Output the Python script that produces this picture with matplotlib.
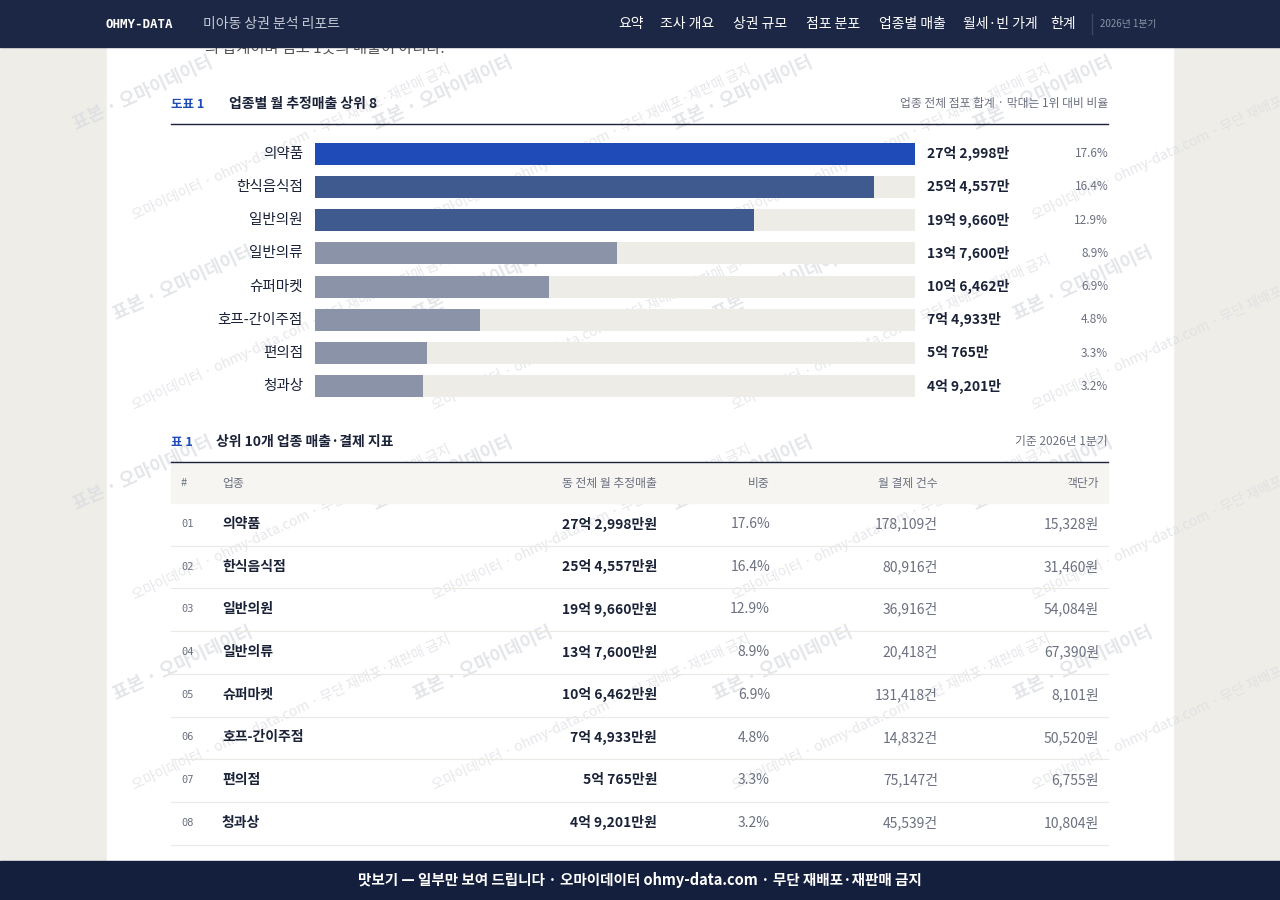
import numpy as np
import matplotlib.pyplot as plt
from matplotlib.patches import Rectangle

plt.rcParams['font.family'] = ['Noto Sans CJK KR', 'DejaVu Sans']

# chart data (만원)
categories = ['의약품', '한식음식점', '일반의원', '일반의류', '슈퍼마켓', '호프-간이주점', '편의점', '청과상']
sales_man = [272998, 254557, 199660, 137600, 106462, 74933, 50765, 49201]
sales_label = ['27억 2,998만', '25억 4,557만', '19억 9,660만', '13억 7,600만',
               '10억 6,462만', '7억 4,933만', '5억 765만', '4억 9,201만']
shares = ['17.6%', '16.4%', '12.9%', '8.9%', '6.9%', '4.8%', '3.3%', '3.2%']

# table data
t_sales = ['27억 2,998만원', '25억 4,557만원', '19억 9,660만원', '13억 7,600만원',
           '10억 6,462만원', '7억 4,933만원', '5억 765만원', '4억 9,201만원']
t_count = ['178,109건', '80,916건', '36,916건', '20,418건', '131,418건', '14,832건', '75,147건', '45,539건']
t_price = ['15,328원', '31,460원', '54,084원', '67,390원', '8,101원', '50,520원', '6,755원', '10,804원']
nav = ['요약', '조사 개요', '상권 규모', '점포 분포', '업종별 매출', '월세·빈 가게', '한계']

W, H = 1280, 900
fig = plt.figure(figsize=(W / 100, H / 100), dpi=100)
fig.patch.set_facecolor('#efede8')
bg = fig.add_axes([0, 0, 1, 1])
bg.set_xlim(0, W)
bg.set_ylim(H, 0)
bg.axis('off')

navy = '#1b2744'
ink = '#1a2238'
grey = '#6b7080'

bg.add_patch(Rectangle((107, 0), 1066, H, color='white', zorder=0))

# watermarks
for yy in range(130, 800, 190):
    for xx in range(70, 1000, 300):
        bg.text(xx + (yy // 190 % 2) * 40, yy, '표본 · 오마이데이터', rotation=25, fontsize=13,
                color='#d9dbe0', alpha=0.7, fontweight='bold', zorder=1)
        bg.text(xx + 60, yy + 90, '오마이데이터 · ohmy-data.com · 무단 재배포·재판매 금지', rotation=25,
                fontsize=10, color='#dcdde2', alpha=0.7, zorder=1)

# header
bg.add_patch(Rectangle((0, 0), W, 47, color=navy, zorder=5))
bg.text(105, 24, 'OHMY-DATA', color='white', fontsize=9, fontweight='bold', va='center',
        family='DejaVu Sans Mono', zorder=6)
bg.text(203, 24, '미아동 상권 분석 리포트', color='#c5cad6', fontsize=10, va='center', zorder=6)
nx = [618, 660, 733, 806, 879, 963, 1050]
for x, t in zip(nx, nav):
    bg.text(x, 24, t, color='white', fontsize=10, va='center', zorder=6)
bg.plot([1092, 1092], [14, 34], color='#3a4663', lw=1, zorder=6)
bg.text(1100, 24, '2026년 1분기', color='#8b93a8', fontsize=7, va='center', zorder=6)
bg.text(205, 48, '의 합계이며 점포 1곳의 매출이 아니다.', color='#555', fontsize=11, va='center', zorder=2)

# figure title
bg.text(171, 104, '도표 1', color='#1f4bb8', fontsize=9, fontweight='bold', va='center')
bg.text(229, 104, '업종별 월 추정매출 상위 8', color=ink, fontsize=10, fontweight='bold', va='center')
bg.text(1108, 104, '업종 전체 점포 합계 · 막대는 1위 대비 비율', color=grey, fontsize=8.5,
        va='center', ha='right')
bg.plot([171, 1108], [124, 124], color=ink, lw=1)

# bar chart
ax = fig.add_axes([315 / W, 1 - 403 / H, 600 / W, (403 - 137) / H])
y = np.arange(len(categories))
top = sales_man[0]
colors = ['#1f4bb8', '#3f5a8f', '#3f5a8f'] + ['#8a93a8'] * 5
ax.barh(y, [top] * len(y), height=0.66, color='#eeece6', zorder=1)
ax.barh(y, sales_man, height=0.66, color=colors, zorder=2)
ax.set_xlim(0, top)
ax.set_ylim(len(y) - 0.5, -0.5)
ax.axis('off')
ax.patch.set_alpha(0)
for i in y:
    ax.text(-12 / 600 * top, i, categories[i], ha='right', va='center', fontsize=10.5,
            fontweight='medium', color=ink)
    ax.text(top * 1.02, i, sales_label[i], ha='left', va='center', fontsize=10,
            fontweight='bold', color=ink)
    ax.text(top * 1.322, i, shares[i], ha='right', va='center', fontsize=8.5, color=grey)

# table
bg.text(171, 442, '표 1', color='#1f4bb8', fontsize=9, fontweight='bold', va='center')
bg.text(216, 442, '상위 10개 업종 매출·결제 지표', color=ink, fontsize=10, fontweight='bold', va='center')
bg.text(1108, 442, '기준 2026년 1분기', color=grey, fontsize=8.5, va='center', ha='right')
bg.plot([171, 1108], [462, 462], color=ink, lw=1)
bg.add_patch(Rectangle((171, 463), 937, 40, color='#f6f5f1', zorder=1))
hy = 483
bg.text(181, hy, '#', color=grey, fontsize=8, va='center')
bg.text(222, hy, '업종', color=grey, fontsize=8.5, va='center')
for x, t in zip([657, 770, 938, 1099], ['동 전체 월 추정매출', '비중', '월 결제 건수', '객단가']):
    bg.text(x, hy, t, color=grey, fontsize=8.5, va='center', ha='right')
row_h = 42.7
for i in range(len(categories) + 1):
    yb = 503 + row_h * (i + 1)
    bg.plot([171, 1108], [yb, yb], color='#ebe9e4', lw=0.8, zorder=2)
for i in range(len(categories)):
    yc = 524 + row_h * i
    bg.text(181, yc, f'{i + 1:02d}', color=grey, fontsize=7.5, va='center', family='DejaVu Sans Mono')
    bg.text(222, yc, categories[i], color=ink, fontsize=10, fontweight='bold', va='center')
    bg.text(657, yc, t_sales[i], color=ink, fontsize=10, fontweight='bold', va='center', ha='right')
    bg.text(770, yc, shares[i], color=grey, fontsize=10, va='center', ha='right')
    bg.text(938, yc, t_count[i], color=grey, fontsize=10, va='center', ha='right')
    bg.text(1099, yc, t_price[i], color=grey, fontsize=10, va='center', ha='right')

# footer
bg.add_patch(Rectangle((0, 861), W, 39, color='#141f3d', zorder=5))
bg.text(640, 880, '맛보기 — 일부만 보여 드립니다 · 오마이데이터 ohmy-data.com · 무단 재배포·재판매 금지',
        color='white', fontsize=10.5, fontweight='bold', ha='center', va='center', zorder=6)

fig.savefig('out.png', dpi=100, facecolor=fig.get_facecolor())
